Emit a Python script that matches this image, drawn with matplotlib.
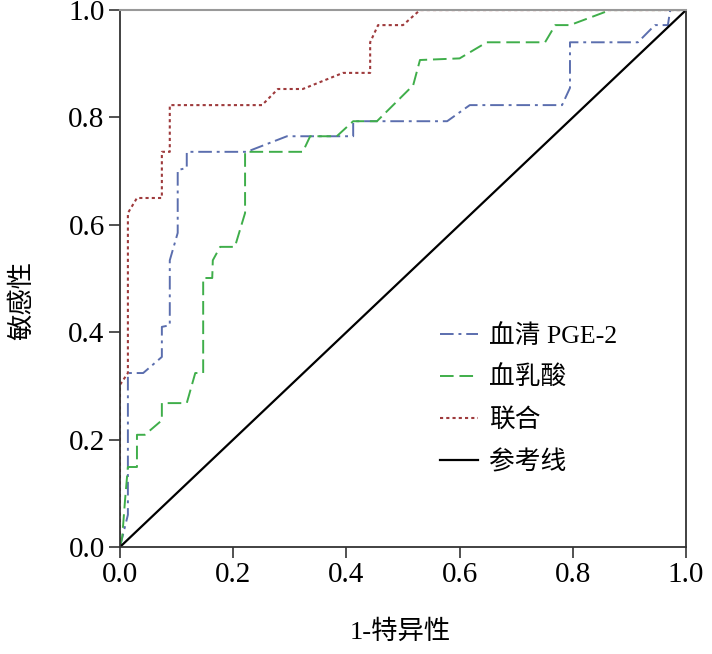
import matplotlib
matplotlib.use("Agg")
import matplotlib.pyplot as plt

plt.rcParams["font.family"] = ["Liberation Serif", "Noto Sans CJK SC"]

# ROC points (1 - specificity, sensitivity)
pge2_fpr = [0.0, 0.014, 0.014, 0.041, 0.074, 0.074, 0.088, 0.088, 0.102, 0.102,
            0.118, 0.118, 0.224, 0.295, 0.412, 0.412, 0.578, 0.618, 0.781, 0.795,
            0.795, 0.915, 0.945, 0.968, 0.972, 1.0]
pge2_tpr = [0.0, 0.06, 0.324, 0.324, 0.354, 0.41, 0.413, 0.534, 0.585, 0.702,
            0.706, 0.736, 0.736, 0.765, 0.765, 0.793, 0.793, 0.823, 0.823, 0.855,
            0.94, 0.94, 0.972, 0.972, 1.0, 1.0]

lactate_fpr = [0.0, 0.004, 0.009, 0.014, 0.021, 0.030, 0.030, 0.044, 0.074, 0.074,
               0.118, 0.133, 0.147, 0.147, 0.163, 0.164, 0.177, 0.203, 0.221, 0.221,
               0.323, 0.336, 0.383, 0.412, 0.454, 0.518, 0.53, 0.60, 0.648, 0.751,
               0.769, 0.795, 0.866, 1.0]
lactate_tpr = [0.0, 0.019, 0.088, 0.149, 0.149, 0.149, 0.209, 0.209, 0.236, 0.268,
               0.268, 0.324, 0.324, 0.501, 0.501, 0.534, 0.559, 0.559, 0.622, 0.736,
               0.736, 0.765, 0.765, 0.793, 0.793, 0.86, 0.907, 0.91, 0.94, 0.94,
               0.972, 0.972, 1.0, 1.0]

combo_fpr = [0.0, 0.0, 0.014, 0.014, 0.030, 0.074, 0.074, 0.088, 0.088, 0.251,
             0.279, 0.323, 0.394, 0.442, 0.442, 0.456, 0.5, 0.53, 1.0]
combo_tpr = [0.0, 0.302, 0.324, 0.622, 0.650, 0.650, 0.736, 0.736, 0.823, 0.823,
             0.853, 0.853, 0.883, 0.883, 0.94, 0.972, 0.972, 1.0, 1.0]

ref_x = [0.0, 1.0]
ref_y = [0.0, 1.0]

labels = ["血清 PGE-2", "血乳酸", "联合", "参考线"]
ticks = [0.0, 0.2, 0.4, 0.6, 0.8, 1.0]
tick_labels = ["0.0", "0.2", "0.4", "0.6", "0.8", "1.0"]

fig = plt.figure(figsize=(7.12, 6.54), dpi=100)
ax = fig.add_axes([0.1685, 0.1636, 0.795, 0.821])

ax.plot(pge2_fpr, pge2_tpr, color="#5b6eae", lw=1.4,
        linestyle=(0, (7, 2.5, 1.5, 2.5)), label=labels[0])
ax.plot(lactate_fpr, lactate_tpr, color="#3fae4a", lw=1.4,
        linestyle=(0, (7, 3)), label=labels[1])
ax.plot(combo_fpr, combo_tpr, color="#9e3a3c", lw=1.5,
        linestyle=(0, (1.5, 1.5)), label=labels[2])
ax.plot(ref_x, ref_y, color="black", lw=1.6, label=labels[3])

ax.set_xlim(0, 1)
ax.set_ylim(0, 1)
ax.set_xticks(ticks)
ax.set_xticklabels(tick_labels)
ax.set_yticks(ticks)
ax.set_yticklabels(tick_labels)
ax.tick_params(direction="out", length=8, width=1.2, labelsize=21,
               color="#333333", pad=3)

for side in ["left", "bottom", "right"]:
    ax.spines[side].set_color("#333333")
    ax.spines[side].set_linewidth(1.3)
ax.spines["top"].set_color("#999999")
ax.spines["top"].set_linewidth(1.5)

ax.set_xlabel("1-特异性", fontsize=19, va="center")
ax.set_ylabel("敏感性", fontsize=19, va="center")
ax.xaxis.set_label_coords(0.495, -0.158)
ax.yaxis.set_label_coords(-0.173, 0.46)

ax.legend(loc="upper left", bbox_to_anchor=(0.565, 0.415), frameon=False,
          fontsize=18.5, handlelength=1.5, handletextpad=0.4,
          labelspacing=0.7, borderaxespad=0, borderpad=0)

fig.savefig("out.png", dpi=100)
